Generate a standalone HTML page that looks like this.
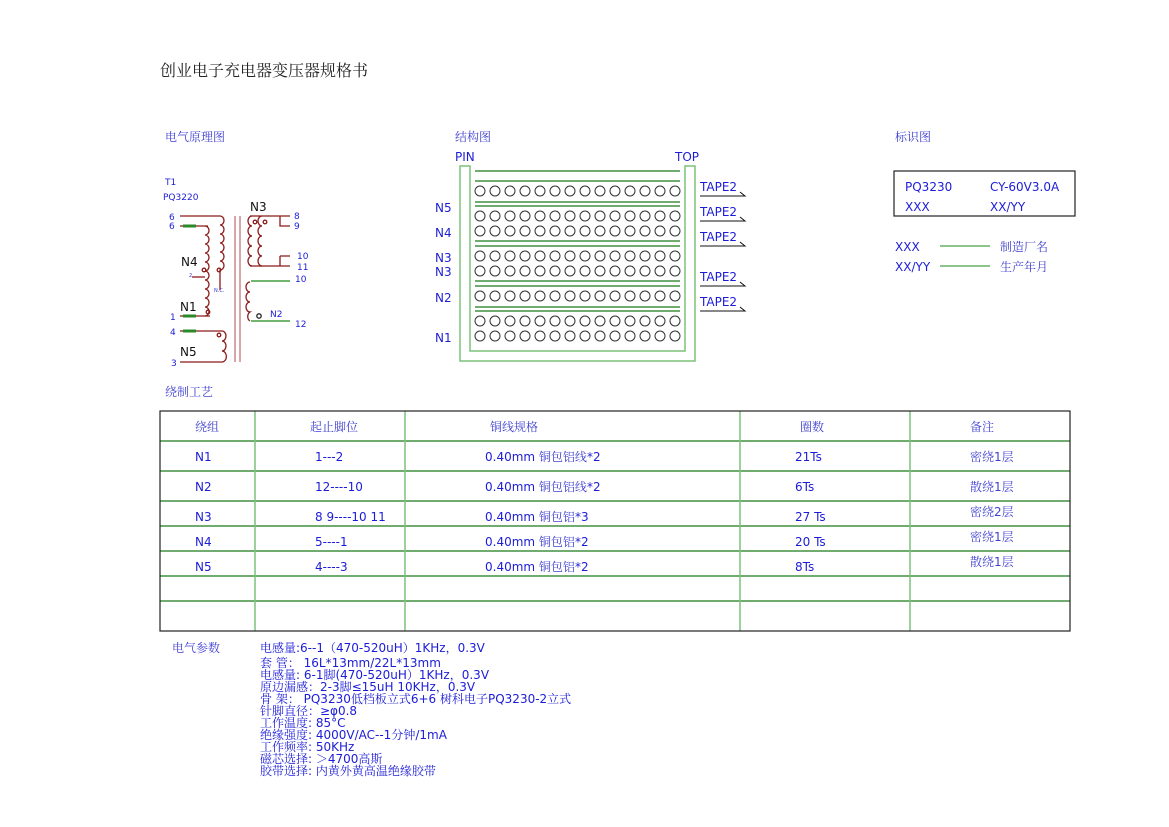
<!DOCTYPE html>
<html><head><meta charset="utf-8"><style>
body{margin:0;background:#fff}
svg{display:block}
text{font-family:"DejaVu Sans","Noto Serif CJK SC",serif;}
.b{fill:#1c1cd8;font-size:12px}
.c{fill:#4040d0;font-size:12px}
.s{fill:#1c1cd8;font-size:9px;font-family:"DejaVu Sans",sans-serif}
.k{fill:#111;font-size:12px}
</style></head><body>
<svg width="1169" height="827" viewBox="0 0 1169 827" xmlns="http://www.w3.org/2000/svg">
<defs>
<g id="row" fill="none" stroke="#333" stroke-width="1">
<circle cx="480" cy="0" r="5"/><circle cx="495" cy="0" r="5"/><circle cx="510" cy="0" r="5"/><circle cx="525" cy="0" r="5"/><circle cx="540" cy="0" r="5"/><circle cx="555" cy="0" r="5"/><circle cx="570" cy="0" r="5"/><circle cx="585" cy="0" r="5"/><circle cx="600" cy="0" r="5"/><circle cx="615" cy="0" r="5"/><circle cx="630" cy="0" r="5"/><circle cx="645" cy="0" r="5"/><circle cx="660" cy="0" r="5"/><circle cx="675" cy="0" r="5"/>
</g>
</defs>
<text x="160" y="76" style="font-size:16px;fill:#222">创业电子充电器变压器规格书</text>
<text x="165" y="141" class="c">电气原理图</text>
<text x="455" y="141" class="c">结构图</text>
<text x="895" y="141" class="c">标识图</text>
<text x="165" y="396" class="c">绕制工艺</text>

<g fill="none" stroke="#8b1a1a" stroke-width="1.3">
<path d="M180 216H220"/>
<path d="M180 226H208"/>
<path d="M192 277H205"/>
<path d="M180 316H210"/>
<path d="M180 331H222"/>
<path d="M180 362H222"/>
<path d="M205 226 a4 4.5 0 0 1 0 9 a4 4.5 0 0 1 0 9 a4 4.5 0 0 1 0 9 a4 4.5 0 0 1 0 9 a4 4.5 0 0 1 0 9 a4 4.5 0 0 1 0 9 a4 4.5 0 0 1 0 9 a4 4.5 0 0 1 0 9 a4 4.5 0 0 1 0 9 a4 4.5 0 0 1 0 9"/>
<path d="M220 216 a4 4.5 0 0 1 0 9 a4 4.5 0 0 1 0 9 a4 4.5 0 0 1 0 9 a4 4.5 0 0 1 0 9 a4 4.5 0 0 1 0 9 a4 4.5 0 0 1 0 9 V290"/>
<path d="M222 331 a4 5 0 0 1 0 10 a4 5 0 0 1 0 10 a4 5 0 0 1 0 11"/>
<circle cx="204" cy="270" r="1.8"/><circle cx="219" cy="270" r="1.8"/><circle cx="208" cy="312" r="1.8"/><circle cx="219" cy="335" r="1.8"/>
<path d="M250 216H290M280 216V226H290M250 266H290M280 256V266H290M280 256H290"/>
<path d="M252 216 a4 5 0 0 0 0 10 a4 5 0 0 0 0 10 a4 5 0 0 0 0 10 a4 5 0 0 0 0 10 a4 5 0 0 0 0 10"/>
<path d="M262 216 a4 5 0 0 0 0 10 a4 5 0 0 0 0 10 a4 5 0 0 0 0 10 a4 5 0 0 0 0 10 a4 5 0 0 0 0 10"/>
<circle cx="255" cy="222" r="1.8"/><circle cx="265" cy="222" r="1.8"/>
<path d="M250 282 a4 5 0 0 0 0 10 a4 5 0 0 0 0 10 a4 5 0 0 0 0 10 a4 5 0 0 0 0 9"/>
<circle cx="259" cy="316" r="2.2" stroke="#222"/>
</g>
<text x="165" y="185" class="s">T1</text>
<text x="163" y="200" class="s">PQ3220</text>
<path d="M251 281H290M251 321H290" stroke="#1a8a1a" stroke-width="1.2"/>
<path d="M183 226H196M183 316H196M183 331H196" stroke="#2a8a2a" stroke-width="3"/>
<path d="M235 216V362M240 216V362" stroke="#c88" stroke-width="1.5"/>
<text x="169" y="220" class="s">6</text><text x="169" y="229" class="s">6</text>
<text x="181" y="266" class="k">N4</text><text x="189" y="277" style="font-size:5px;fill:#33c">2</text>
<text x="214" y="292" style="font-size:5px;fill:#33c">N.C.</text>
<text x="180" y="311" class="k">N1</text>
<text x="170" y="320" class="s">1</text><text x="170" y="335" class="s">4</text><text x="171" y="366" class="s">3</text>
<text x="180" y="356" class="k">N5</text>
<text x="250" y="211" class="k">N3</text>
<text x="294" y="219" class="s">8</text><text x="294" y="229" class="s">9</text>
<text x="297" y="259" class="s">10</text><text x="297" y="270" class="s">11</text>
<text x="295" y="282" class="s">10</text><text x="295" y="327" class="s">12</text>
<text x="270" y="317" class="s">N2</text>

<text x="455" y="161" class="b">PIN</text><text x="675" y="161" class="b">TOP</text>
<path d="M460 166V361H695V166H685V351H470V166Z" fill="none" stroke="#7cc27c" stroke-width="1.5"/>
<g stroke="#1a7a1a" stroke-width="1.2">
<path d="M475 171H680M475 181H680M475 202H680M475 206H680M475 241H680M475 246H680M475 281H680M475 286H680M475 307H680M475 311H680"/>
</g>
<use href="#row" y="191"/><use href="#row" y="216"/><use href="#row" y="231"/><use href="#row" y="256"/><use href="#row" y="271"/><use href="#row" y="296"/><use href="#row" y="321"/><use href="#row" y="336"/>
<text x="435" y="212" class="b">N5</text><text x="435" y="237" class="b">N4</text><text x="435" y="262" class="b">N3</text><text x="435" y="276" class="b">N3</text><text x="435" y="302" class="b">N2</text><text x="435" y="342" class="b">N1</text>
<g stroke="#111" fill="none"><path d="M700 196H745l-5-4M700 221H745l-5-4M700 246H745l-5-4M700 286H745l-5-4M700 311H745l-5-4"/></g>
<text x="700" y="191" class="b">TAPE2</text><text x="700" y="216" class="b">TAPE2</text><text x="700" y="241" class="b">TAPE2</text><text x="700" y="281" class="b">TAPE2</text><text x="700" y="306" class="b">TAPE2</text>

<rect x="894" y="171" width="181" height="45" fill="none" stroke="#222" stroke-width="1.2"/>
<text x="905" y="191" class="b">PQ3230</text><text x="990" y="191" class="b">CY-60V3.0A</text>
<text x="905" y="211" class="b">XXX</text><text x="990" y="211" class="b">XX/YY</text>
<text x="895" y="251" class="b">XXX</text><text x="895" y="271" class="b">XX/YY</text>
<path d="M940 246H990M940 266H990" stroke="#1a8a1a"/>
<text x="1000" y="251" class="c">制造厂名</text><text x="1000" y="271" class="c">生产年月</text>

<g stroke="#1a7a1a" stroke-width="1.2"><path d="M160 441H1070M160 471H1070M160 501H1070M160 526H1070M160 551H1070M160 576H1070M160 601H1070"/></g>
<g stroke="#7cc27c" stroke-width="1.5"><path d="M255 411V631M405 411V631M740 411V631M910 411V631"/></g>
<rect x="160" y="411" width="910" height="220" fill="none" stroke="#222" stroke-width="1.2"/>
<g class="c"><text x="195" y="431">绕组</text><text x="310" y="431">起止脚位</text><text x="490" y="431">铜线规格</text><text x="800" y="431">圈数</text><text x="970" y="431">备注</text></g>
<g class="b">
<text x="195" y="461">N1</text><text x="315" y="461">1---2</text><text x="485" y="461">0.40mm <tspan class="c">铜包铝线</tspan>*2</text><text x="795" y="461">21Ts</text><text x="970" y="461" class="c">密绕1层</text>
<text x="195" y="491">N2</text><text x="315" y="491">12----10</text><text x="485" y="491">0.40mm <tspan class="c">铜包铝线</tspan>*2</text><text x="795" y="491">6Ts</text><text x="970" y="491" class="c">散绕1层</text>
<text x="195" y="521">N3</text><text x="315" y="521">8 9----10 11</text><text x="485" y="521">0.40mm <tspan class="c">铜包铝</tspan>*3</text><text x="795" y="521">27 Ts</text><text x="970" y="516" class="c">密绕2层</text>
<text x="195" y="546">N4</text><text x="315" y="546">5----1</text><text x="485" y="546">0.40mm <tspan class="c">铜包铝</tspan>*2</text><text x="795" y="546">20 Ts</text><text x="970" y="541" class="c">密绕1层</text>
<text x="195" y="571">N5</text><text x="315" y="571">4----3</text><text x="485" y="571">0.40mm <tspan class="c">铜包铝</tspan>*2</text><text x="795" y="571">8Ts</text><text x="970" y="566" class="c">散绕1层</text>
</g>
<text x="172" y="652" class="c">电气参数</text>
<g class="b">
<text x="260" y="652">电感量:6--1（470-520uH）1KHz，0.3V</text>
<text x="260" y="667">套  管：  16L*13mm/22L*13mm</text>
<text x="260" y="679">电感量:   6-1脚(470-520uH）1KHz，0.3V</text>
<text x="260" y="691">原边漏感：2-3脚≤15uH  10KHz，0.3V</text>
<text x="260" y="703">骨  架：  PQ3230低档板立式6+6 树科电子PQ3230-2立式</text>
<text x="260" y="715">针脚直径：≥φ0.8</text>
<text x="260" y="727">工作温度: 85°C</text>
<text x="260" y="739">绝缘强度: 4000V/AC--1分钟/1mA</text>
<text x="260" y="751">工作频率: 50KHz</text>
<text x="260" y="763">磁芯选择: ＞4700高斯</text>
<text x="260" y="775">胶带选择: 内黄外黄高温绝缘胶带</text>
</g>
</svg>
</body></html>
